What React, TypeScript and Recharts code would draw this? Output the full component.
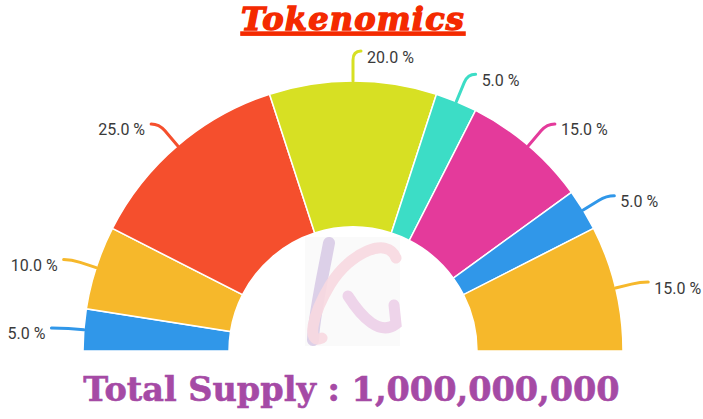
import React from 'react';
import { PieChart, Pie, Cell } from 'recharts';

const categories = ['A', 'B', 'C', 'D', 'E', 'F', 'G', 'H'];
const shares = [5, 10, 25, 20, 5, 15, 5, 15];
const colors = ['#3097e9', '#f6b82b', '#f54f2d', '#d7e023', '#3cddc6', '#e43a9b', '#3097e9', '#f6b82b'];
const title = 'Tokenomics';
const footer = 'Total Supply : 1,000,000,000';

const data = categories.map((name, i) => ({ name, value: shares[i] }));
const RAD = Math.PI / 180;

const renderLabel = (props: any) => {
  const { cx, cy, midAngle, outerRadius, value, index } = props;
  const cos = Math.cos(-midAngle * RAD);
  const sin = Math.sin(-midAngle * RAD);
  const side = cos >= -0.001 ? 1 : -1;
  const extra = 6 * Math.abs(sin);
  const r0 = outerRadius;
  const sx = cx + r0 * cos, sy = cy + r0 * sin;
  const mx = cx + (r0 + 15 + extra) * cos, my = cy + (r0 + 15 + extra) * sin;
  const qx = cx + (r0 + 24 + extra) * cos, qy = cy + (r0 + 24 + extra) * sin;
  const ex = qx + side * 8, ey = qy;
  const color = colors[index % colors.length];
  return (
    <g>
      <path d={`M${sx},${sy} L${mx},${my} Q${qx},${qy} ${ex},${ey}`} stroke={color} strokeWidth={3} fill="none" strokeLinecap="round" />
      <text x={ex + side * 6} y={ey + 6} textAnchor={side > 0 ? 'start' : 'end'} dominantBaseline="central"
        fill="#3a3a3a" fontFamily="Roboto" fontSize={16}>
        {`${Number(value).toFixed(1)} %`}
      </text>
    </g>
  );
};

export default function App() {
  return (
    <div style={{ position: 'absolute', left: 0, top: 0, width: 703, height: 419, background: '#fff', overflow: 'hidden' }}>
      <PieChart width={703} height={419} margin={{ top: 0, right: 0, bottom: 0, left: 0 }} style={{ position: 'absolute', left: 0, top: 0 }}>
        <Pie data={data} dataKey="value" nameKey="name" cx={353} cy={351} startAngle={180} endAngle={0}
          innerRadius={124} outerRadius={270} stroke="#fff" strokeWidth={1.5} isAnimationActive={false}
          label={renderLabel} labelLine={false}>
          {data.map((d, i) => <Cell key={d.name + i} fill={colors[i]} />)}
        </Pie>
      </PieChart>
      <svg width={703} height={419} style={{ position: 'absolute', left: 0, top: 0, pointerEvents: 'none' }}>
        <text x={353} y={30} textAnchor="middle" fontFamily="DejaVu Serif" fontWeight="bold" fontStyle="italic"
          fontSize={32} fill="#f42a00" stroke="#f42a00" strokeWidth={1.4} letterSpacing={1.2}
          style={{ textDecoration: 'underline' }}>{title}</text>
        <rect x={305} y={237} width={95} height={109} fill="#fafafa" />
        <path d="M329,243 C322,280 314,315 313,340" stroke="#dcd0e8" strokeWidth={12} fill="none" strokeLinecap="round" />
        <path d="M396,258 C388,236 350,252 330,285 C312,315 306,345 322,338" stroke="#f7d8e0" strokeWidth={11} fill="none" strokeLinecap="round" opacity={0.9} />
        <path d="M348,296 C362,318 380,336 396,324 L394,305" stroke="#eed4ea" strokeWidth={11} fill="none" strokeLinecap="round" />
      </svg>
      <div style={{ position: 'absolute', left: 0, top: 371, width: 703, textAlign: 'center', fontFamily: '"DejaVu Serif"', fontWeight: 'bold', fontSize: 33.5, color: '#a54aa5', WebkitTextStroke: '0.6px #a54aa5', whiteSpace: 'nowrap', lineHeight: '38px' }}>
        {footer}
      </div>
    </div>
  );
}
